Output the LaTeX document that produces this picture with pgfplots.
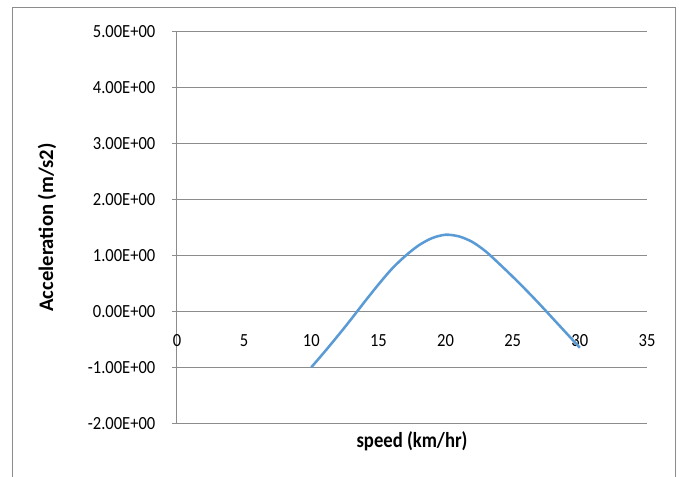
\documentclass[border=0pt]{standalone}
\usepackage{pgfplots}
\pgfplotsset{compat=1.18}
\usepackage{fontspec}
\setmainfont{Carlito}
\definecolor{gridc}{HTML}{8C8C8C}
\definecolor{linec}{HTML}{5B9BD5}
\pgfplotstableread{
x y
10 -1.00
11 -0.72
12 -0.43
13 -0.13
14 0.18
15 0.48
16 0.76
17 0.99
18 1.18
19 1.31
20 1.37
21 1.34
22 1.24
23 1.07
24 0.85
25 0.62
26 0.38
27 0.13
28 -0.13
29 -0.39
30 -0.65
}\datatable
\begin{document}
\begin{tikzpicture}[x=1pt,y=1pt]
\path[use as bounding box] (0,0) rectangle (509.25,357.75);
\draw[gridc, line width=0.75pt] (9.5,0) -- (9.5,352.1) -- (506.25,352.1) -- (506.25,0);
\begin{axis}[
  at={(132.75pt,40.3pt)}, anchor=south west,
  scale only axis, width=352.5pt, height=293.7pt,
  xmin=0, xmax=35, ymin=-2, ymax=5,
  axis x line*=middle, axis y line*=left,
  hide obscured x ticks=false,
  axis line style={gridc, line width=0.75pt, -},
  xtick={0,5,...,35}, xticklabels={0,5,10,15,20,25,30,35},
  ytick={-2,-1,0,1,2,3,4,5},
  yticklabels={-2.00E+00,-1.00E+00,0.00E+00,1.00E+00,2.00E+00,3.00E+00,4.00E+00,5.00E+00},
  ymajorgrids, grid style={gridc, line width=0.75pt},
  tick align=outside, major tick length=3.75pt,
  xtick style={draw=none}, ytick style={gridc, line width=0.75pt},
  tick label style={font=\fontsize{12.4}{13}\selectfont, yscale=1.12},
  xticklabel style={anchor=north, yshift=-8.5pt},
  yticklabel style={anchor=east, xshift=-9pt},
  xlabel={\textbf{speed (km/hr)}},
  ylabel={\textbf{Acceleration (m/s2)}},
  every axis x label/.style={at={(axis description cs:0.5,-0.045)}, anchor=center, font=\fontsize{14}{16}\selectfont, yscale=1.15},
  every axis y label/.style={at={(axis description cs:-0.2766,0.5)}, anchor=center, rotate=90, font=\fontsize{15.5}{17}\selectfont},
  clip=false,
]
\addplot[linec, line width=1.9pt, smooth] table[x=x, y=y] {\datatable};
\end{axis}
\end{tikzpicture}
\end{document}
